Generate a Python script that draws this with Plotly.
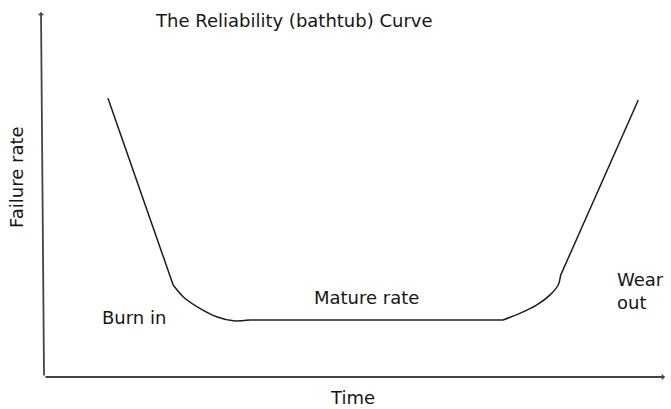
import plotly.graph_objects as go

# Bathtub curve outline: time (0-100) vs failure rate (0-100)
time = [10.3, 20.8, 22.4, 25.1, 27.8, 30.5, 33.2, 73.9, 76.7, 79.3, 81.5, 82.8, 83.2, 95.7]
failure_rate = [76.4, 25.2, 22.0, 18.8, 16.5, 15.4, 15.6, 15.6, 17.5, 19.7, 22.5, 25.2, 27.9, 75.9]

# (start, end, shape) pieces of the outline: straight walls, rounded corners, flat floor
pieces = [(0, 1, "linear"), (1, 6, "spline"), (6, 7, "linear"), (7, 12, "spline"), (12, 13, "linear")]

title_text = "The Reliability (bathtub) Curve"
x_label = "Time"
y_label = "Failure rate"
phase_labels = ["Burn in", "Mature rate", "Wear<br>out"]
phase_x = [14.5, 52.0, 91.9]
phase_y = [16.2, 21.9, 23.6]
phase_anchor = ["center", "center", "left"]

FONT = "DejaVu Sans, sans-serif"
INK = "#444444"
TEXT = "#161616"
FS = 18

fig = go.Figure()
for a, b, shape in pieces:
    fig.add_trace(go.Scatter(
        x=time[a:b + 1], y=failure_rate[a:b + 1], mode="lines",
        line=dict(color="#1c1c1c", width=1.5, shape=shape, smoothing=0.8),
        hoverinfo="skip", showlegend=False,
    ))

for txt, px, py, anc in zip(phase_labels, phase_x, phase_y, phase_anchor):
    fig.add_annotation(x=px, y=py, text=txt, showarrow=False,
                       xref="x", yref="y", align="left",
                       xanchor=anc, yanchor="middle",
                       font=dict(family=FONT, size=FS, color=TEXT))

# Axis arrows
fig.add_annotation(x=-0.0048, y=1.0, xref="paper", yref="paper",
                   ax=3, ay=365, axref="pixel", ayref="pixel",
                   showarrow=True, arrowhead=1, arrowsize=0.6, arrowwidth=1.8,
                   arrowcolor=INK, text="")
fig.add_annotation(x=1.0, y=0.0, xref="paper", yref="paper",
                   ax=-621, ay=0, axref="pixel", ayref="pixel",
                   showarrow=True, arrowhead=1, arrowsize=0.6, arrowwidth=1.8,
                   arrowcolor=INK, text="")

fig.add_annotation(x=0.4026, y=0.978, xref="paper", yref="paper",
                   xanchor="center", yanchor="middle",
                   text=title_text, showarrow=False,
                   font=dict(family=FONT, size=FS, color=TEXT))
fig.add_annotation(x=0.496, y=-0.0548, xref="paper", yref="paper",
                   xanchor="center", yanchor="middle",
                   text=x_label, showarrow=False,
                   font=dict(family=FONT, size=FS, color=TEXT))
fig.add_annotation(x=-0.0435, y=0.548, xref="paper", yref="paper",
                   xanchor="center", yanchor="middle",
                   text=y_label, showarrow=False, textangle=-90,
                   font=dict(family=FONT, size=FS, color=TEXT))

fig.update_xaxes(range=[0, 100], visible=False, fixedrange=True)
fig.update_yaxes(range=[0, 100], visible=False, fixedrange=True)
fig.update_layout(
    width=671, height=409,
    margin=dict(l=44, r=6, t=12, b=32),
    plot_bgcolor="white", paper_bgcolor="white",
)

fig.write_html("out.html")
